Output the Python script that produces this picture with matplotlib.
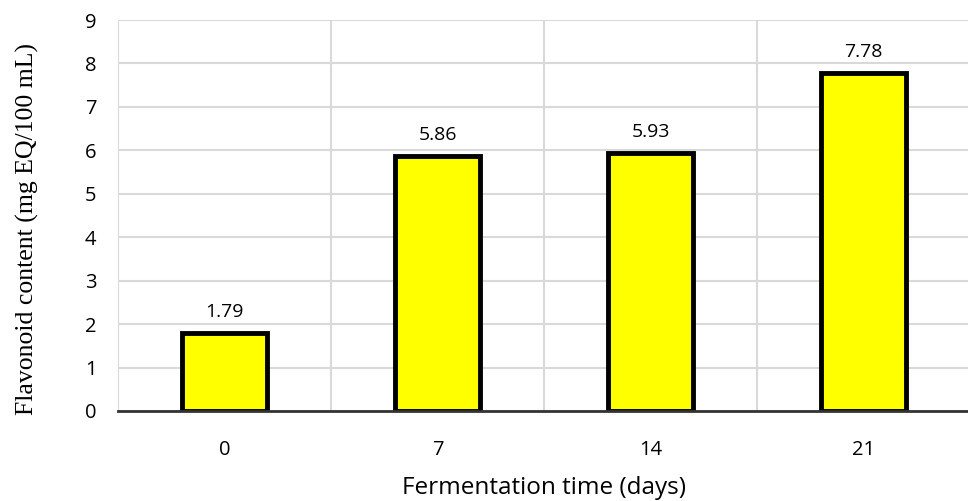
import numpy as np
import matplotlib.pyplot as plt

days = ["0", "7", "14", "21"]
flavonoid = [1.79, 5.86, 5.93, 7.78]

fig = plt.figure(figsize=(9.68, 5.01), dpi=100)
ax = fig.add_axes([118 / 968, 90 / 501, 852 / 968, 391 / 501])

x = np.arange(len(days))
bars = ax.bar(x, flavonoid, width=0.4, color="#FFFF00", edgecolor="black",
              linewidth=3.5, zorder=3)

for b, v in zip(bars, flavonoid):
    ax.annotate(f"{v:.2f}", (b.get_x() + b.get_width() / 2, v),
                xytext=(0, 9), textcoords="offset points",
                ha="center", va="bottom", fontsize=14, family="Open Sans")

ax.set_xlim(-0.5, len(days) - 0.5)
ax.set_ylim(0, 9)
ax.set_yticks(range(10))
ax.set_xticks(x)
ax.set_xticklabels(days)
ax.set_xticks(np.arange(-0.5, len(days)), minor=True)

ax.grid(axis="y", color="#d9d9d9", linewidth=1.5, zorder=0)
ax.grid(axis="x", which="minor", color="#d9d9d9", linewidth=1.5, zorder=0)
ax.tick_params(which="both", length=0)
ax.tick_params(axis="y", pad=15.5, labelsize=14.5)
ax.tick_params(axis="x", pad=21, labelsize=14.5)
for lbl in ax.get_xticklabels() + ax.get_yticklabels():
    lbl.set_family("Open Sans")

for s in ["top", "right", "left"]:
    ax.spines[s].set_visible(False)
ax.spines["bottom"].set_color("#333333")
ax.spines["bottom"].set_linewidth(2)
ax.spines["bottom"].set_zorder(4)

ax.set_xlabel("Fermentation time (days)", fontsize=17.5, family="Open Sans", va="center")
ax.xaxis.set_label_coords(0.5, -0.198)
ax.set_ylabel("Flavonoid content (mg EQ/100 mL)", fontsize=18.5,
              family="Liberation Serif", va="center")
ax.yaxis.set_label_coords(-0.106, 0.465)

fig.savefig("out.png", dpi=100)
